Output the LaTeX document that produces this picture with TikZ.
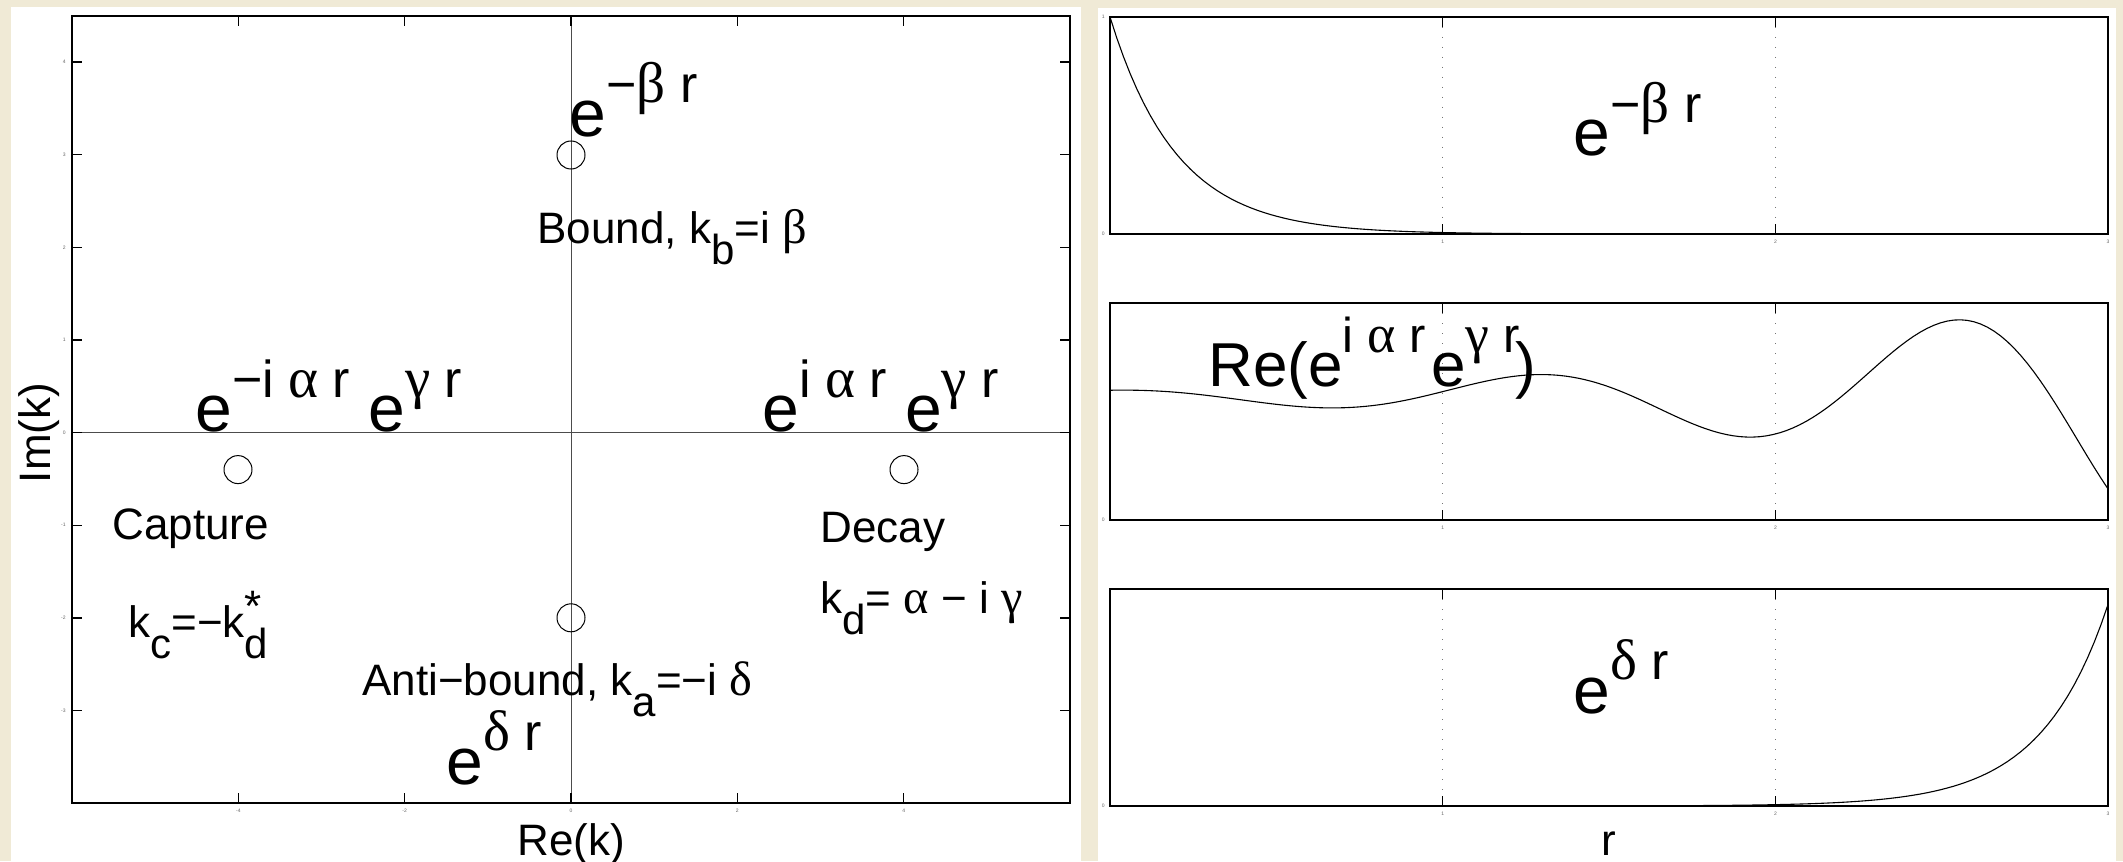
\documentclass[tikz,border=0pt]{standalone}
\usepackage{fontspec}
\setmainfont{Liberation Sans}
\newfontfamily\greekfont[Scale=1.1]{Liberation Serif}
\usepackage{xcolor}
\usepackage{tikz}
\usetikzlibrary{positioning}

\definecolor{slidecream}{RGB}{240,234,214}

\newcommand{\gk}[1]{{\greekfont #1}}
\newcommand{\supexp}[2][26]{e\raisebox{17pt}{\fontsize{#1}{#1}\selectfont #2}}
\newcommand{\lowsub}[1]{\raisebox{-10.5pt}{\fontsize{21}{21}\selectfont #1}}

\begin{document}
\begin{tikzpicture}[x=0.5pt, y=-0.5pt,
    axis frame/.style={line width=0.7pt},
    zero line/.style={line width=0.5pt, draw=black!70},
    pole node/.style={circle, draw, line width=0.5pt, minimum size=14pt, inner sep=0pt},
    label node/.style={inner sep=0pt, anchor=base west, font=\fontsize{22}{22}\selectfont},
    exp node/.style={inner sep=0pt, anchor=base west, font=\fontsize{33}{33}\selectfont},
    tick label/.style={inner sep=0pt, font=\fontsize{2.5}{3}\selectfont, text=black!60},
    grid line/.style={draw=black!55, line width=0.5pt, dash pattern=on 0.6pt off 4.4pt},
    wave/.style={line width=0.55pt}
]
    \useasboundingbox (0,0) rectangle (2123,861);
    % fondo
    \fill[slidecream] (0,0) rectangle (2123,861);
    \fill[white] (11,7) rectangle (1081,861);
    \fill[white] (1098,8) rectangle (2116,861);

    % Plano complejo k
    \draw[zero line] (72,432.6) -- (1070,432.6);
    \draw[zero line] (571,16) -- (571,803);
    \foreach \t in {-3,...,4} {
        \draw[axis frame] (72,{432.6-92.6*\t}) -- ++(10,0);
        \draw[axis frame] (1070,{432.6-92.6*\t}) -- ++(-10,0);
        \node[tick label, anchor=east] at (66,{432.6-92.6*\t}) {\t};
    }
    \foreach \t in {-4,-2,...,4} {
        \draw[axis frame] ({571+83.17*\t},16) -- ++(0,10);
        \draw[axis frame] ({571+83.17*\t},803) -- ++(0,-10);
        \node[tick label, anchor=north] at ({571+83.17*\t},809) {\t};
    }
    \draw[axis frame] (72,16) rectangle (1070,803);

    % Polos
    \node[pole node] (bound)     at (571,155)   {};
    \node[pole node] (capture)   at (238,469.6) {};
    \node[pole node] (decay)     at (904,469.6) {};
    \node[pole node] (antibound) at (571,617.8) {};

    % Etiquetas del plano
    \node[exp node]   (bound exp)     at (569,137) {\supexp{−\gk{β} r}};
    \node[label node] (bound lbl)     at (537,243) {Bound, k\lowsub{b}=i \gk{β}};
    \node[exp node]   (capture exp)   at (195,431) {\supexp{−i \gk{α} r} \supexp{\gk{γ} r}};
    \node[exp node]   (decay exp)     at (762,431) {\supexp{i \gk{α} r} \supexp{\gk{γ} r}};
    \node[label node] (capture lbl)   at (112,539) {Capture};
    \node[label node] (capture k)     at (128,637) {k\lowsub{c}=−k\rlap{\raisebox{8pt}{*}}\lowsub{d}};
    \node[label node] (decay lbl)     at (820,542) {Decay};
    \node[label node] (decay k)       at (820,613) {k\lowsub{d}= \gk{α} − i \gk{γ}};
    \node[label node] (antibound lbl) at (362,695) {Anti−bound, k\lowsub{a}=−i \gk{δ}};
    \node[exp node]   (antibound exp) at (446,784) {\supexp{\gk{δ} r}};
    \node[label node, anchor=base, rotate=90] (im lbl) at (50,433) {Im(k)};
    \node[label node, anchor=base] (re lbl) at (571,855) {Re(k)};

    % Funciones de onda
    \foreach \ptop in {17,303,589} {
        \foreach \r in {1,2} {
            \draw[grid line] ({1110+332.7*\r},\ptop) -- ({1110+332.7*\r},{\ptop+217});
            \draw[axis frame] ({1110+332.7*\r},\ptop) -- ++(0,10);
            \draw[axis frame] ({1110+332.7*\r},{\ptop+217}) -- ++(0,-10);
        }
        \foreach \r in {1,2,3}
            \node[tick label, anchor=north] at ({1110+332.7*\r},{\ptop+223}) {\r};
        \node[tick label, anchor=east] at (1105,{\ptop+217}) {0};
        \draw[axis frame] (1110,\ptop) rectangle (2108,{\ptop+217});
    }
    \node[tick label, anchor=east] at (1105,17) {1};

    \draw[wave] plot[domain=0:3, samples=150] ({1110+332.7*\x},{234-217*exp(-5*\x)});
    \draw[wave] plot[domain=0:3, samples=150] ({1110+332.7*\x},{520-217*(0.57+0.028*exp(\x)*cos(deg(5*\x)))});
    \draw[wave] plot[domain=0:3, samples=150] ({1110+332.7*\x},{806-217*0.93*exp(5*\x-15)});

    \node[exp node]   (top exp) at (1573,156) {\supexp{−\gk{β} r}};
    \node[exp node, font=\fontsize{31}{31}\selectfont] (mid exp) at (1208,386)
        {Re(\supexp[24.5]{i \gk{α} r}\hspace{3pt}\supexp[24.5]{\gk{γ} r}\hspace{-2pt})};
    \node[exp node]   (low exp) at (1573,713) {\supexp{\gk{δ} r}};
    \node[label node, anchor=base] (r lbl) at (1609,855) {r};
\end{tikzpicture}
\end{document}
